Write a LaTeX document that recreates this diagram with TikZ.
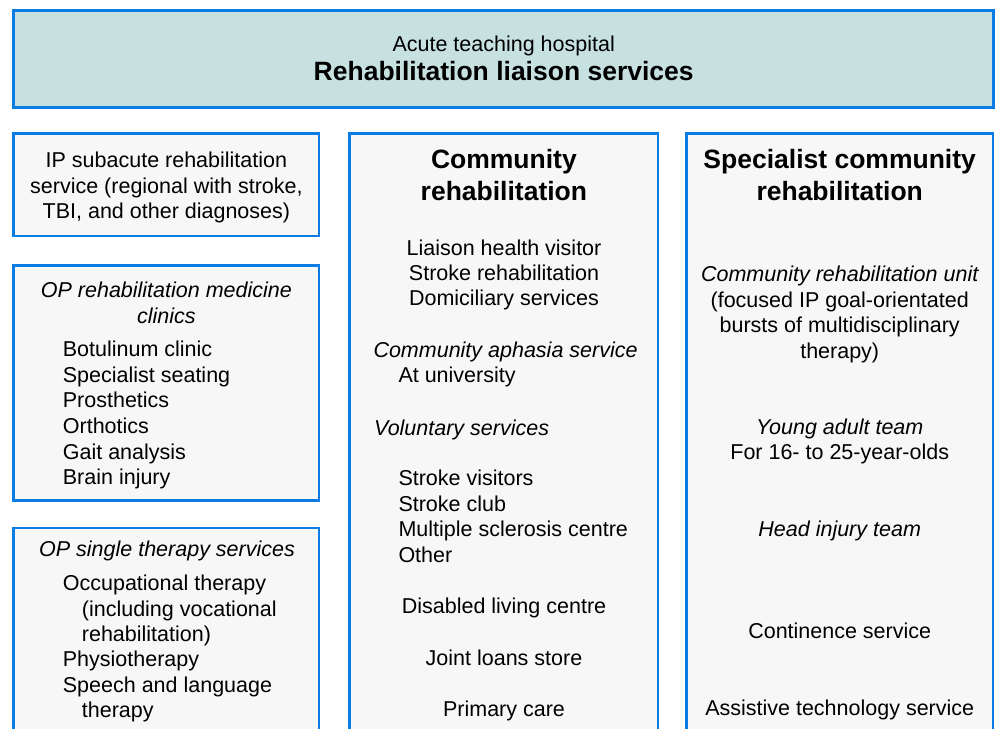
\documentclass[tikz,border=0pt]{standalone}
\usepackage{fontspec}
\setmainfont{Liberation Sans}
\definecolor{rimblue}{RGB}{10,124,228}
\definecolor{headfill}{RGB}{199,225,225}
\definecolor{panelfill}{RGB}{247,247,247}
\begin{document}
\begin{tikzpicture}[x=1pt, y=-1pt,
    panel/.style={draw=rimblue, line width=2.7pt, fill=panelfill, outer sep=0pt, inner sep=0pt},
    txt/.style={inner sep=0pt, anchor=base, font=\fontsize{21.5}{25.6}\selectfont},
    ltxt/.style={txt, anchor=base west},
    hd/.style={txt, font=\fontsize{26.5}{31.5}\selectfont\bfseries},
    ital/.style={txt, font=\fontsize{21.5}{25.6}\selectfont\itshape}]
    \useasboundingbox (0,0) rectangle (1000,728);
    \clip (0,0) rectangle (1000,728);

    % Boxes
    \node[panel, fill=headfill, minimum width=980pt, minimum height=96.6pt] (hosp) at (503.7,59) {};
    \node[panel, minimum width=305.3pt, minimum height=102.7pt] (ipsub) at (166.4,184.7) {};
    \node[panel, minimum width=305.3pt, minimum height=235.4pt] (opclin) at (166.4,383) {};
    \node[panel, minimum width=305.3pt, minimum height=232pt] (opther) at (166.4,644) {};
    \node[panel, minimum width=308.3pt, minimum height=626.5pt] (comm) at (503.9,446.8) {};
    \node[panel, minimum width=306.7pt, minimum height=626.5pt] (spec) at (839.7,446.8) {};

    % Hospital
    \node[txt] (acute) at (503.7,51.5) {Acute teaching hospital};
    \node[hd] (liaison) at (503.7,80) {Rehabilitation liaison services};

    % Left column
    \foreach \svc [count=\i from 0] in {{IP subacute rehabilitation}, {service (regional with stroke,}, {TBI, and other diagnoses)}}
        \node[txt] (ip\i) at (166.4, 167.5+25.7*\i) {\svc};

    \node[ital] (clinhead1) at (166.4,297.7) {OP rehabilitation medicine};
    \node[ital] (clinhead2) at (166.4,323.3) {clinics};
    \foreach \svc [count=\i from 0] in {Botulinum clinic, Specialist seating, Prosthetics, Orthotics, Gait analysis, Brain injury}
        \node[ltxt] (clin\i) at (62.7, 356.7+25.6*\i) {\svc};

    \node[ital] (therhead) at (167,556.7) {OP single therapy services};
    \node[ltxt] (ot) at (62.7,590.7) {Occupational therapy};
    \node[ltxt] (ot2) at (81.7,616.7) {(including vocational};
    \node[ltxt] (ot3) at (81.7,641.7) {rehabilitation)};
    \node[ltxt] (physio) at (62.7,666.7) {Physiotherapy};
    \node[ltxt] (salt) at (62.7,692.7) {Speech and language};
    \node[ltxt] (salt2) at (81.7,717.3) {therapy};

    % Middle column
    \node[hd] (commhead1) at (503.9,168.3) {Community};
    \node[hd] (commhead2) at (503.9,200) {rehabilitation};
    \foreach \svc [count=\i from 0] in {Liaison health visitor, Stroke rehabilitation, Domiciliary services}
        \node[txt] (dom\i) at (504, 255+25.4*\i) {\svc};
    \node[ital, anchor=base west] (aphasia) at (373.3,357.3) {Community aphasia service};
    \node[ltxt] (uni) at (398.3,382.7) {At university};
    \node[ital, anchor=base west] (vol) at (374,435) {Voluntary services};
    \foreach \svc [count=\i from 0] in {Stroke visitors, Stroke club, Multiple sclerosis centre, Other}
        \node[ltxt] (vol\i) at (398.3, 485.7+25.6*\i) {\svc};
    \node[txt] (dlc) at (504,613.3) {Disabled living centre};
    \node[txt] (loans) at (504,665) {Joint loans store};
    \node[txt] (primary) at (504,716) {Primary care};

    % Right column
    \node[hd] (spechead1) at (839.7,168.3) {Specialist community};
    \node[hd] (spechead2) at (839.7,200) {rehabilitation};
    \node[ital] (cru) at (839.7,281.7) {Community rehabilitation unit};
    \foreach \svc [count=\i from 0] in {{(focused IP goal-orientated}, {bursts of multidisciplinary}, {therapy)}}
        \node[txt] (cru\i) at (839.7, 307.3+25.6*\i) {\svc};
    \node[ital] (young) at (839.7,434) {Young adult team};
    \node[txt] (ages) at (839.7,459.3) {For 16- to 25-year-olds};
    \node[ital] (head) at (839.7,536.7) {Head injury team};
    \node[txt] (contin) at (839.7,638.3) {Continence service};
    \node[txt] (assist) at (839.7,715) {Assistive technology service};
\end{tikzpicture}
\end{document}
